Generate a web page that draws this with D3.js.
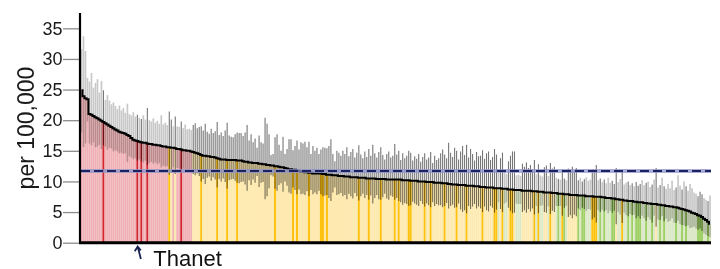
<!DOCTYPE html>
<html>
<head>
<meta charset="utf-8">
<script src="https://cdn.jsdelivr.net/npm/d3@7"></script>
<style>
  body { margin: 0; background: #fff; }
  svg { display: block; font-family: "Liberation Sans", Arial, sans-serif; }
</style>
</head>
<body>
<svg id="chart" width="720" height="269"></svg>
<script>
// rate per 100,000, ranked highest to lowest
var rates = [
  24.9, 23.9, 23.6, 23.4, 21.0, 20.9, 20.7, 20.5, 20.3, 20.1, 19.9, 19.7, 19.5, 19.3, 19.1, 18.9, 18.7, 18.5, 18.3, 18.1,
  18.0, 17.9, 17.8, 17.6, 17.4, 17.1, 16.8, 16.7, 16.6, 16.5, 16.4, 16.3, 16.3, 16.2, 16.1, 16.1, 16.0, 16.0, 15.9, 15.9,
  15.8, 15.7, 15.7, 15.6, 15.6, 15.5, 15.5, 15.4, 15.3, 15.3, 15.2, 15.1, 15.1, 15.0, 15.0, 14.9, 14.8, 14.7, 14.6, 14.5,
  14.3, 14.2, 14.2, 14.1, 14.1, 14.0, 14.0, 13.9, 13.8, 13.7, 13.6, 13.6, 13.6, 13.5, 13.5, 13.5, 13.5, 13.5, 13.4, 13.4,
  13.4, 13.3, 13.2, 13.2, 13.1, 13.1, 13.0, 13.0, 13.0, 12.9, 12.9, 12.8, 12.8, 12.7, 12.7, 12.6, 12.6, 12.5, 12.5, 12.4,
  12.3, 12.3, 12.2, 12.1, 12.0, 12.0, 11.9, 11.9, 11.8, 11.7, 11.6, 11.6, 11.5, 11.5, 11.4, 11.4, 11.3, 11.3, 11.3, 11.3,
  11.3, 11.2, 11.2, 11.1, 11.1, 11.1, 11.0, 11.0, 11.0, 10.9, 10.9, 10.9, 10.8, 10.8, 10.8, 10.7, 10.7, 10.7, 10.7, 10.6,
  10.6, 10.6, 10.6, 10.5, 10.5, 10.5, 10.5, 10.5, 10.4, 10.4, 10.4, 10.4, 10.4, 10.3, 10.3, 10.3, 10.3, 10.3, 10.3, 10.3,
  10.3, 10.2, 10.2, 10.2, 10.2, 10.1, 10.1, 10.1, 10.1, 10.0, 10.0, 10.0, 10.0, 9.9, 9.9, 9.9, 9.9, 9.8, 9.8, 9.8,
  9.8, 9.7, 9.7, 9.7, 9.6, 9.6, 9.5, 9.5, 9.5, 9.4, 9.4, 9.4, 9.4, 9.3, 9.3, 9.3, 9.3, 9.2, 9.2, 9.2,
  9.1, 9.1, 9.1, 9.0, 9.0, 9.0, 9.0, 8.9, 8.9, 8.9, 8.9, 8.8, 8.8, 8.8, 8.7, 8.7, 8.7, 8.6, 8.6, 8.6,
  8.6, 8.5, 8.5, 8.5, 8.5, 8.5, 8.4, 8.4, 8.4, 8.3, 8.3, 8.3, 8.2, 8.2, 8.2, 8.2, 8.1, 8.1, 8.1, 8.0,
  8.0, 8.0, 7.9, 7.9, 7.9, 7.8, 7.8, 7.8, 7.8, 7.7, 7.7, 7.7, 7.7, 7.6, 7.6, 7.6, 7.6, 7.5, 7.5, 7.5,
  7.5, 7.4, 7.4, 7.3, 7.3, 7.3, 7.2, 7.2, 7.1, 7.1, 7.0, 7.0, 6.9, 6.9, 6.8, 6.8, 6.8, 6.7, 6.7, 6.6,
  6.6, 6.6, 6.5, 6.5, 6.4, 6.4, 6.3, 6.3, 6.3, 6.2, 6.2, 6.1, 6.1, 6.0, 6.0, 5.9, 5.9, 5.8, 5.8, 5.7,
  5.6, 5.5, 5.4, 5.3, 5.2, 5.1, 4.9, 4.8, 4.7, 4.5, 4.4, 4.2, 3.9, 3.7, 3.4, 3.1
];

// 95% confidence limits
var upper = [
  31.6, 33.7, 31.3, 26.9, 26.3, 27.7, 25.3, 26.1, 26.7, 24.5, 26.4, 24.9, 23.3, 24.1, 23.2, 22.6, 22.9, 22.3, 21.8, 22.4,
  21.6, 22.0, 21.2, 22.7, 21.0, 20.8, 21.3, 20.6, 20.9, 20.4, 20.2, 20.8, 20.1, 22.0, 20.0, 19.8, 20.3, 19.6, 19.9, 19.4,
  20.8, 19.3, 19.6, 19.2, 21.4, 20.1, 19.0, 20.6, 19.0, 18.9, 19.8, 18.7, 19.3, 18.5, 18.6, 18.4, 19.2, 19.5, 18.7, 18.9,
  19.0, 18.3, 19.4, 18.1, 17.8, 18.6, 17.9, 18.2, 19.7, 17.6, 18.0, 17.4, 18.3, 19.6, 17.5, 17.3, 17.2, 17.7, 18.0, 17.9,
  17.9, 17.4, 18.0, 19.2, 16.7, 17.7, 16.4, 17.0, 15.5, 17.5, 16.4, 16.2, 20.4, 19.4, 17.7, 14.3, 14.5, 17.2, 17.7, 16.0,
  15.0, 17.3, 14.5, 15.3, 16.9, 16.9, 15.1, 15.8, 16.7, 15.2, 16.4, 16.2, 16.5, 15.6, 16.5, 14.5, 15.8, 15.0, 15.5, 14.5,
  15.2, 15.6, 15.5, 15.4, 15.8, 16.9, 14.5, 13.3, 15.0, 14.7, 14.2, 15.0, 14.5, 15.6, 14.1, 14.8, 15.3, 13.9, 14.7, 15.9,
  14.4, 13.8, 14.9, 14.0, 15.3, 14.2, 16.0, 14.6, 13.9, 14.8, 15.6, 14.3, 13.6, 14.5, 14.9, 13.9, 14.2, 16.1, 14.4, 15.0,
  13.5, 14.6, 13.8, 14.2, 15.0, 14.7, 13.4, 14.1, 13.7, 14.5, 13.2, 14.0, 14.6, 13.6, 13.9, 14.8, 13.0, 14.2, 13.5, 13.8,
  14.6, 15.2, 14.4, 13.8, 16.3, 14.7, 14.0, 15.5, 15.0, 13.6, 14.9, 15.8, 14.3, 16.0, 13.9, 15.3, 14.5, 13.4, 14.8, 14.1,
  14.2, 15.1, 13.7, 14.6, 14.9, 13.5, 14.0, 15.3, 14.4, 11.4, 13.8, 14.7, 11.5, 11.2, 13.3, 14.2, 14.9, 14.9, 11.0, 11.1,
  10.9, 12.9, 12.4, 13.1, 12.2, 12.7, 12.0, 13.5, 11.2, 12.8, 11.0, 10.8, 12.3, 12.6, 10.9, 13.0, 12.1, 12.4, 10.6, 10.4,
  10.3, 12.0, 10.5, 10.2, 12.1, 11.9, 12.4, 11.8, 12.2, 10.2, 10.6, 10.0, 10.4, 10.7, 10.1, 10.3, 12.0, 11.9, 12.7, 10.2,
  10.5, 9.9, 10.3, 9.7, 10.6, 9.8, 10.1, 9.6, 12.2, 9.9, 10.4, 11.9, 9.5, 9.8, 10.0, 9.4, 9.7, 9.2, 9.9, 9.3,
  9.6, 10.2, 9.4, 9.8, 10.0, 9.1, 9.5, 10.3, 12.2, 9.0, 9.4, 10.6, 9.2, 8.8, 9.6, 8.9, 10.1, 8.6, 9.0, 11.0,
  9.3, 8.7, 10.0, 9.2, 8.5, 9.6, 8.9, 8.2, 8.0, 7.6, 8.3, 7.9, 7.3, 7.0, 6.8, 7.7
];
var lower = [
  18.0, 15.6, 16.2, 19.8, 16.2, 15.9, 16.4, 15.6, 15.7, 16.0, 15.3, 15.9, 15.7, 15.2, 15.5, 15.4, 14.9, 15.1, 14.9, 14.6,
  14.7, 14.5, 14.6, 13.2, 14.1, 13.9, 13.6, 13.8, 13.4, 13.6, 13.3, 13.1, 13.4, 12.7, 13.0, 13.2, 12.9, 13.1, 12.8, 13.0,
  12.3, 12.6, 12.4, 12.5, 11.1, 11.4, 12.3, 11.2, 12.2, 12.1, 12.0, 12.1, 11.9, 12.0, 11.9, 12.0, 11.2, 11.0, 11.3, 10.9,
  10.0, 10.4, 9.6, 10.6, 10.8, 10.1, 10.7, 10.3, 9.0, 10.4, 10.0, 10.5, 9.9, 8.8, 10.2, 10.3, 10.4, 10.1, 9.8, 9.7,
  9.9, 10.0, 9.5, 8.5, 10.2, 9.4, 10.3, 9.8, 10.9, 9.1, 9.8, 9.9, 7.1, 7.6, 8.9, 11.0, 10.8, 8.8, 8.5, 9.4,
  9.7, 8.3, 10.0, 9.3, 8.2, 8.0, 9.0, 8.6, 7.9, 8.7, 7.9, 8.0, 7.8, 8.4, 7.6, 8.6, 7.9, 8.2, 7.9, 8.5,
  7.9, 7.6, 7.7, 7.8, 7.3, 6.8, 8.2, 9.0, 7.8, 7.9, 8.1, 7.6, 7.8, 7.1, 8.0, 7.6, 7.2, 8.1, 7.6, 6.9,
  7.6, 8.0, 7.3, 7.8, 7.0, 7.7, 6.4, 7.3, 7.8, 7.1, 7.0, 7.4, 8.0, 7.2, 7.0, 7.7, 7.5, 7.0, 7.3, 6.8,
  6.6, 6.2, 6.5, 6.3, 6.0, 6.1, 6.7, 6.4, 6.2, 6.0, 6.8, 6.3, 5.9, 6.4, 6.1, 5.8, 6.6, 6.0, 6.3, 6.1,
  6.1, 5.8, 6.0, 6.5, 5.6, 6.0, 6.2, 5.7, 5.8, 6.4, 5.4, 5.0, 5.3, 4.8, 6.0, 5.5, 5.9, 6.3, 5.6, 5.9,
  5.6, 5.0, 5.9, 5.3, 5.1, 6.0, 5.7, 4.9, 5.4, 6.6, 5.5, 5.0, 6.4, 6.6, 5.7, 5.2, 4.8, 4.9, 6.4, 6.3,
  6.3, 5.0, 5.3, 4.9, 5.5, 5.1, 5.6, 4.6, 6.0, 4.8, 6.0, 6.1, 5.0, 4.9, 5.9, 4.7, 5.2, 5.0, 6.0, 6.0,
  6.0, 4.4, 5.7, 6.0, 4.2, 4.5, 4.0, 4.6, 4.3, 5.6, 5.3, 5.7, 5.5, 5.2, 5.5, 5.4, 3.8, 4.1, 3.3, 5.3,
  5.0, 5.4, 5.1, 5.3, 4.8, 5.2, 4.9, 5.2, 3.0, 5.0, 4.6, 3.2, 4.9, 4.5, 4.3, 4.7, 4.5, 4.6, 4.0, 4.3,
  3.9, 4.4, 4.0, 3.6, 4.2, 3.8, 3.3, 4.4, 2.6, 3.8, 3.7, 4.3, 3.5, 3.9, 3.4, 3.6, 4.0, 3.3, 3.2, 3.6,
  3.0, 2.9, 2.8, 2.7, 2.8, 2.4, 2.5, 2.6, 2.3, 2.1, 2.3, 1.9, 1.5, 1.3, 1.1, 0.9
];

// areas picked out in the stronger shade (ranked position)
var highlighted = [11, 28, 30, 33, 44, 50, 60, 68, 73, 78, 97, 106, 108, 114, 120, 121, 123, 139, 144, 150,
  157, 159, 164, 165, 172, 175, 182, 188, 193, 201, 207, 208, 211, 215, 216, 227, 229, 235, 239, 241,
  242, 249, 251, 252, 256, 257, 258, 260, 262, 266, 267, 271, 274, 276, 278, 279, 280, 283, 286, 290,
  292, 298, 301, 303, 309, 310, 311, 314];

var yTicks = [0, 5, 10, 15, 20, 25, 30, 35];
var englandRate = 11.7;
var thanetIndex = 28;
var annotationLabel = "Thanet";
var yLabel = "per 100,000";

var svg = d3.select("#chart");

var x = d3.scaleBand().domain(d3.range(rates.length)).range([80.5, 711]).padding(0),
  y = d3.scaleLinear().domain([0, 37.5]).range([242.7, 13]),
  bw = x.bandwidth();

var colours = {
  high: ["#efb1b5", "#d42631"],
  similar: ["#feeab0", "#ffc20f"],
  low: ["#dce9c8", "#9fd065"]
};

var bars = rates.map(function(v, i){
  var sig = lower[i] > englandRate ? "high" : (upper[i] < englandRate ? "low" : "similar");
  return {i: i, value: v, lo: lower[i], hi: upper[i], sig: sig, hl: highlighted.indexOf(i) >= 0};
});

// bars
svg.append("g").selectAll("rect")
  .data(bars)
  .enter()
  .append("rect")
  .attr("x", function(d){ return x(d.i); })
  .attr("width", bw + 0.1)
  .attr("y", function(d){ return y(d.value); })
  .attr("height", function(d){ return y(0) - y(d.value); })
  .attr("fill", function(d){ return colours[d.sig][d.hl ? 1 : 0]; });

// confidence intervals
var ciG = svg.append("g").style("mix-blend-mode", "multiply");
ciG.selectAll("line")
  .data(bars)
  .enter()
  .append("line")
  .attr("x1", function(d){ return x(d.i) + bw / 2; })
  .attr("x2", function(d){ return x(d.i) + bw / 2; })
  .attr("y1", function(d){ return y(d.lo); })
  .attr("y2", function(d){ return y(d.hi); })
  .attr("stroke", function(d){ return (d.sig === "similar" || d.hl) ? "#767676" : "#c8c8c8"; })
  .attr("stroke-width", function(d){ return (d.sig === "similar" || d.hl) ? 1.1 : bw * 0.85; });

// ranked rate line
var line = d3.line()
  .x(function(d){ return x(d.i) + bw / 2; })
  .y(function(d){ return y(d.value); })
  .curve(d3.curveStep);
svg.append("path")
  .datum(bars)
  .attr("d", line)
  .attr("fill", "none")
  .attr("stroke", "#000")
  .attr("stroke-width", 2);

// England average
var benchG = svg.append("g");
benchG.append("line")
  .attr("x1", 81).attr("x2", 711)
  .attr("y1", y(englandRate)).attr("y2", y(englandRate))
  .attr("stroke", "#8e93c8").attr("stroke-opacity", 0.75).attr("stroke-width", 4);
benchG.append("line")
  .attr("x1", 81).attr("x2", 711)
  .attr("y1", y(englandRate)).attr("y2", y(englandRate))
  .attr("stroke", "#1c2260").attr("stroke-width", 2)
  .attr("stroke-dasharray", "9 4");

// axes
var yAxis = svg.append("g")
  .attr("transform", "translate(80,0)")
  .call(d3.axisLeft(y).tickValues(yTicks).tickSize(17).tickPadding(0.5));
yAxis.attr("font-family", null).attr("font-size", null);
yAxis.select(".domain").remove();
yAxis.selectAll(".tick line").attr("stroke", "#8c8c8c").attr("stroke-width", 1.3);
yAxis.selectAll(".tick text").attr("font-size", 18).attr("fill", "#1a1a1a");

svg.append("line")
  .attr("x1", 80).attr("x2", 80)
  .attr("y1", 13).attr("y2", y(0))
  .attr("stroke", "#000").attr("stroke-width", 2.2);
svg.append("line")
  .attr("x1", 79).attr("x2", 711)
  .attr("y1", y(0)).attr("y2", y(0))
  .attr("stroke", "#000").attr("stroke-width", 3);

svg.append("text")
  .attr("transform", "translate(34,128) rotate(-90)")
  .attr("text-anchor", "middle")
  .attr("font-size", 23)
  .attr("fill", "#1a1a1a")
  .text(yLabel);

// Thanet annotation
var tx = x(thanetIndex) + bw / 2;
svg.append("path")
  .attr("d", "M" + (tx + 3.5) + ",259 L" + (tx + 0.3) + ",246.5 M" + (tx - 2.6) + ",251.2 L" + (tx + 0.3) + ",246.5 L" + (tx + 3.4) + ",250.4")
  .attr("fill", "none")
  .attr("stroke", "#1a2356")
  .attr("stroke-width", 1.8);
svg.append("text")
  .attr("x", tx + 16)
  .attr("y", 265.5)
  .attr("font-size", 22)
  .attr("fill", "#111")
  .text(annotationLabel);
</script>
</body>
</html>
